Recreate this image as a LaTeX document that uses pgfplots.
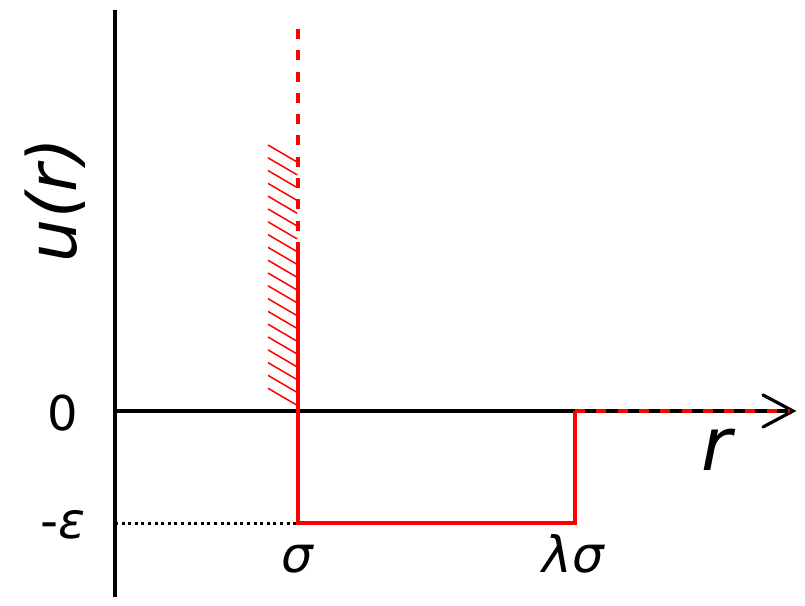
\documentclass[border=0pt]{standalone}
\usepackage{fontspec}
\setmainfont{DejaVu Sans}
\usepackage{pgfplots}
\pgfplotsset{compat=1.18}
\definecolor{wellred}{RGB}{255,0,0}
\begin{document}
\begin{tikzpicture}
\begin{axis}[
  x=91.5pt, y=56pt,
  xmin=-0.6284, xmax=3.7705,
  ymin=-1.741, ymax=3.6696,
  hide axis, clip=false, scale only axis,
]
\coordinate (sw) at (rel axis cs:0,0);
\coordinate (ne) at (rel axis cs:1,1);
% axes
\addplot[black, line width=1.6pt] coordinates {(0,-1.661) (0,3.580)};
\addplot[black, line width=1.6pt] coordinates {(0,0) (3.70,0)};
\addplot[black, line width=1.6pt, line join=miter, line cap=round] coordinates {(3.541,0.143) (3.705,0) (3.541,-0.143)};
% dotted -epsilon guide
\addplot[black, line width=1.5pt, dash pattern=on 1.5pt off 1.8pt] coordinates {(0,-1) (1,-1)};
% hatching
\addplot[wellred, line width=0.75pt, unbounded coords=jump] coordinates {
(0.836,2.375) (0.995,2.223) (nan,nan)
(0.836,2.261) (0.995,2.109) (nan,nan)
(0.836,2.147) (0.995,1.995) (nan,nan)
(0.836,2.032) (0.995,1.880) (nan,nan)
(0.836,1.918) (0.995,1.766) (nan,nan)
(0.836,1.804) (0.995,1.652) (nan,nan)
(0.836,1.689) (0.995,1.537) (nan,nan)
(0.836,1.575) (0.995,1.423) (nan,nan)
(0.836,1.461) (0.995,1.309) (nan,nan)
(0.836,1.346) (0.995,1.194) (nan,nan)
(0.836,1.232) (0.995,1.080) (nan,nan)
(0.836,1.118) (0.995,0.966) (nan,nan)
(0.836,1.003) (0.995,0.851) (nan,nan)
(0.836,0.889) (0.995,0.737) (nan,nan)
(0.836,0.775) (0.995,0.623) (nan,nan)
(0.836,0.661) (0.995,0.509) (nan,nan)
(0.836,0.546) (0.995,0.394) (nan,nan)
(0.836,0.432) (0.995,0.280) (nan,nan)
(0.836,0.318) (0.995,0.166) (nan,nan)
(0.836,0.203) (0.995,0.051)
};
% dashed hard-core continuation
\addplot[wellred, line width=1.7pt, dash pattern=on 5pt off 5.65pt] coordinates {(1,3.411) (1,1.5)};
% square well
\addplot[wellred, line width=1.7pt] coordinates {(1,1.5) (1,-1) (2.514,-1) (2.514,0)};
% dashed continuation along axis
\addplot[wellred, line width=1.6pt, dash pattern=on 5pt off 5.65pt] coordinates {(2.514,0) (3.689,0)};
% labels
\node[anchor=base, font=\fontsize{24}{28}\selectfont] at (axis cs:-0.284,-0.170) {0};
\node[anchor=base, font=\fontsize{25}{30}\selectfont] at (axis cs:-0.284,-1.134) {-\textit{ε}};
\node[anchor=base, font=\fontsize{25}{30}\selectfont\itshape] at (axis cs:0.995,-1.446) {σ};
\node[anchor=base, font=\fontsize{25}{30}\selectfont\itshape] at (axis cs:2.503,-1.446) {λσ};
\node[anchor=base, font=\fontsize{37}{42}\selectfont\itshape] at (axis cs:3.29,-0.527) {r};
\node[rotate=90, font=\fontsize{34}{40}\selectfont\itshape] at (axis cs:-0.328,1.884) {u(r)};
\end{axis}
\pgfresetboundingbox
\path (sw) rectangle (ne);
\end{tikzpicture}
\end{document}
